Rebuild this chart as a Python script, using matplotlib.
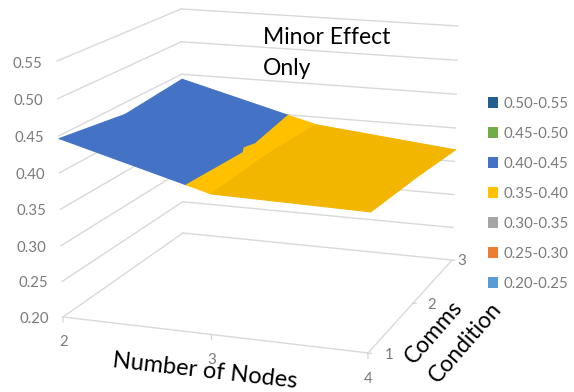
import numpy as np
import matplotlib
matplotlib.use("Agg")
import matplotlib.pyplot as plt
from matplotlib.patches import Patch
from mpl_toolkits.mplot3d import proj3d
from mpl_toolkits.mplot3d.art3d import Poly3DCollection

plt.rcParams['font.family'] = ['Lato', 'DejaVu Sans']

NODES = [2, 3, 4]
COMMS = [1, 2, 3]
# one row per comms condition, one column per number of nodes
EFFECT = [
    [0.447, 0.391, 0.387],
    [0.434, 0.3935, 0.379],
    [0.443, 0.389, 0.368],
]
Z_TICKS = [0.20, 0.25, 0.30, 0.35, 0.40, 0.45, 0.50, 0.55]
BAND_LABELS = ['0.50-0.55', '0.45-0.50', '0.40-0.45', '0.35-0.40',
               '0.30-0.35', '0.25-0.30', '0.20-0.25']
BAND_COLORS = ['#255E91', '#70AD47', '#4472C4', '#FFC000',
               '#A5A5A5', '#ED7D31', '#5B9BD5']
# Excel lights the facets on the 3-4 side a bit darker
DARK_YELLOW = '#F2B600'

GRID = '#D9D9D9'
TICK_TEXT = '#7A7A7A'
W, H = 574, 392

# where the corners of the chart box sit in the picture, used to fit the camera
BOX_ANCHORS = [
    ((2, 1, 0.20), (63, 317)),
    ((4, 1, 0.20), (368, 353)),
    ((2, 3, 0.20), (183, 233)),
    ((4, 3, 0.20), (452, 260)),
    ((2, 1, 0.55), (57, 61)),
    ((2, 3, 0.55), (181, 9)),
    ((4, 3, 0.55), (458, 26)),
]
# the comms labels do not keep one distance from the edge in the original
COMMS_LABEL_X = [4.13, 4.12, 4.07]

fig = plt.figure(figsize=(W / 100, H / 100), dpi=100)
# 3d axes are forced square, so make it as big as the figure is wide
ax = fig.add_axes([0, (1 - W / H) / 2, 1, W / H], projection='3d', computed_zorder=False)
ax.set_axis_off()
ax.set_proj_type('ortho')  # stops Line3D clipping against the perspective frustum


def fitted_proj():
    """Projection matrix fitted to BOX_ANCHORS (replaces the elev/azim camera)."""
    ax.apply_aspect()
    inv = ax.transData.inverted()
    rows, rhs = [], []
    for (x, y, z), (px, py) in BOX_ANCHORS:
        u, v = inv.transform((px, H - py))
        rows.append([x, y, z, 1, 0, 0, 0, 0, -u * x, -u * y, -u * z])
        rows.append([0, 0, 0, 0, x, y, z, 1, -v * x, -v * y, -v * z])
        rhs += [u, v]
    p = np.linalg.lstsq(np.array(rows), np.array(rhs), rcond=None)[0]
    return np.array([
        [p[0], p[1], p[2], p[3]],
        [p[4], p[5], p[6], p[7]],
        [0, 0, 1, 0],
        [p[8], p[9], p[10], 1],
    ])


ax.get_proj = fitted_proj


def clip_z(poly, low, high):
    """Cut a 3d polygon down to the part between two z levels."""
    for level, sign in ((low, 1), (high, -1)):
        out = []
        for i in range(len(poly)):
            a, b = np.array(poly[i]), np.array(poly[(i + 1) % len(poly)])
            da, db = sign * (a[2] - level), sign * (b[2] - level)
            if da >= 0:
                out.append(a)
            if da * db < 0:
                out.append(a + (b - a) * da / (da - db))
        poly = out
        if not poly:
            break
    return poly


def gridline(p0, p1, color=GRID, lw=1.0):
    ax.plot(*zip(p0, p1), color=color, lw=lw, zorder=1)


def label_3d(x, y, z, s, **kw):
    # plain 2d text at the projected point
    u, v, _ = proj3d.proj_transform(x, y, z, fitted_proj())
    ax.text2D(u, v, s, ha=kw.pop('ha', 'center'), va='center', color=TICK_TEXT,
              fontsize=10.8, zorder=3, **kw)


ax.set_xlim(2, 4)
ax.set_ylim(1, 3)
ax.set_zlim(0.2, 0.55)

# walls and floor
for z in Z_TICKS:
    gridline((2, 1, z), (2, 3, z))
    gridline((2, 3, z), (4, 3, z))
gridline((2, 1, 0.2), (4, 1, 0.2))
gridline((4, 1, 0.2), (4, 3, 0.2))
for x in NODES:
    gridline((x, 1, 0.2), (x, 1, 0.193))
for c in COMMS:
    gridline((4, c, 0.2), (4.02, c, 0.2))

# surface, cut along the legend bands. Each cell fans out from the middle
# point of the grid, which is how the kink in the band edge comes about
values = np.array(EFFECT)
for i in range(len(COMMS) - 1):
    for j in range(len(NODES) - 1):
        corner = [(NODES[j + dj], COMMS[i + di], values[i + di, j + dj])
                  for di, dj in ((0, 0), (0, 1), (1, 1), (1, 0))]
        k = [n for n, c in enumerate(corner) if c[0] == NODES[1] and c[1] == COMMS[1]][0]
        corner = corner[k:] + corner[:k]
        for tri in (corner[:3], [corner[0], corner[2], corner[3]]):
            for n, color in enumerate(BAND_COLORS):
                low = Z_TICKS[len(BAND_COLORS) - 1 - n]
                piece = clip_z(tri, low, low + 0.05)
                if len(piece) < 3:
                    continue
                if color == '#FFC000' and j == 1:
                    color = DARK_YELLOW
                # thicker edge hides the seams between the pieces
                ax.add_collection3d(Poly3DCollection([piece], facecolor=color, edgecolor=color,
                                                     linewidth=0.8, zorder=2))

# tick labels
for z in Z_TICKS:
    label_3d(1.9, 1, z - 0.005, f'{z:.2f}', ha='right')
for x in NODES:
    label_3d(x, 1, 0.165, str(x))
for c, lx in zip(COMMS, COMMS_LABEL_X):
    label_3d(lx, c, 0.2, str(c))

fig.text(263 / W, 1 - 44 / H, 'Minor Effect', ha='left', va='baseline', fontsize=16.5, color='black')
fig.text(263 / W, 1 - 75 / H, 'Only', ha='left', va='baseline', fontsize=16.5, color='black')
fig.text(205 / W, 1 - 371 / H, 'Number of Nodes', ha='center', va='center', rotation=-6.5,
         rotation_mode='anchor', fontsize=17, color='black')
fig.text(434 / W, 1 - 332 / H, 'Comms', ha='center', va='center', rotation=49,
         rotation_mode='anchor', fontsize=16.5, color='black')
fig.text(465 / W, 1 - 342 / H, 'Condition', ha='center', va='center', rotation=49,
         rotation_mode='anchor', fontsize=16.5, color='black')

handles = [Patch(facecolor=c, edgecolor='none', label=l) for c, l in zip(BAND_COLORS, BAND_LABELS)]
fig.legend(handles=handles, loc='upper left', bbox_to_anchor=(483 / W, 1 - 92 / H), frameon=False,
           fontsize=10.8, labelcolor=TICK_TEXT, handlelength=0.72, handleheight=0.72,
           handletextpad=0.35, labelspacing=1.07, borderpad=0.3, borderaxespad=0)

fig.savefig('out.png', dpi=100)
